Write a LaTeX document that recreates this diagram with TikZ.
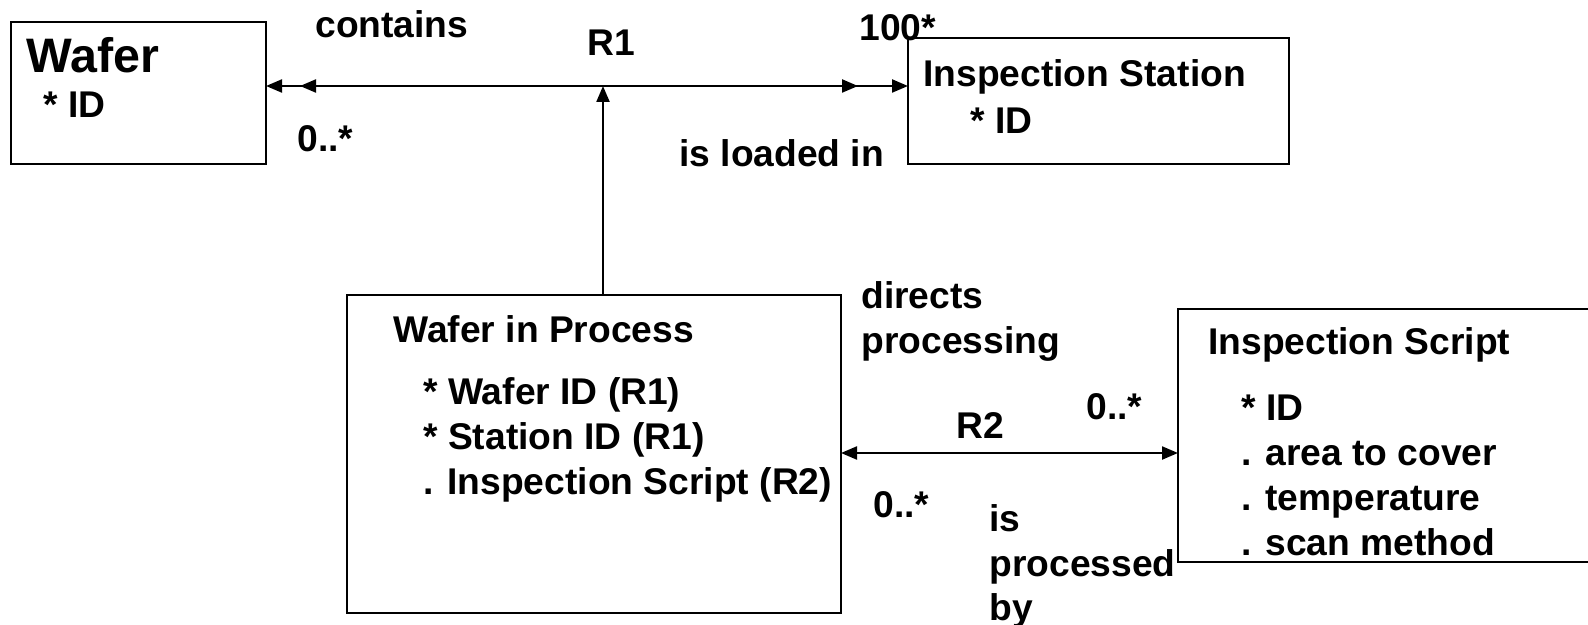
\documentclass[tikz,border=0pt]{standalone}
\usepackage{fontspec}
\setmainfont{Liberation Sans}
\usetikzlibrary{arrows.meta}
\begin{document}
\begin{tikzpicture}[x=0.5pt,y=-0.5pt,
  box/.style={draw,line width=1.1pt,inner sep=0pt},
  txt/.style={anchor=base west,inner sep=0pt,font=\fontsize{18.6pt}{22pt}\selectfont\bfseries},
  big/.style={anchor=base west,inner sep=0pt,font=\fontsize{24.2pt}{28pt}\selectfont\bfseries},
  conn/.style={line width=1.1pt,-{Triangle[length=8pt,width=6.5pt]}},
  tipr/.style={line width=1.1pt,{Triangle[length=8pt,width=6.5pt]}-{Triangle[length=8pt,width=6.5pt]}}]
\useasboundingbox (0,0) rectangle (1588,625);

% entity boxes
\draw[box] (11,22) rectangle (266,164);
\node[inner sep=0pt] (wafer) at (138.5,93) {};
\draw[box] (908,38) rectangle (1289,164);
\node[inner sep=0pt] (station) at (1098.5,101) {};
\draw[box] (347,295) rectangle (841,613);
\node[inner sep=0pt] (wip) at (594,454) {};
\draw[box] (1178,309) rectangle (1600,562);
\node[inner sep=0pt] (script) at (1389,435) {};

% box texts
\node[big] (waferT) at (26,73) {Wafer};
\node[txt] (waferA) at (43,118) {* ID};
\node[txt] (stationT) at (923,87) {Inspection Station};
\node[txt] (stationA) at (970,134) {* ID};
\node[txt] (wipT) at (393,343) {Wafer in Process};
\node[txt] (wipA) at (423,404) {* Wafer ID (R1)};
\node[txt] (wipB) at (423,449) {* Station ID (R1)};
\node[txt] (wipC) at (423,494) {. Inspection Script (R2)};
\node[txt] (scriptT) at (1208,355) {Inspection Script};
\node[txt] (scriptA) at (1241,420) {* ID};
\node[txt] (scriptB) at (1241,465) {. area to cover};
\node[txt] (scriptC) at (1241,510) {. temperature};
\node[txt] (scriptD) at (1241,555) {. scan method};

% relationship R1
\coordinate (r1L) at (266,86);
\coordinate (r1Li) at (300,86);
\coordinate (r1R) at (908,86);
\coordinate (r1Ri) at (858,86);
\coordinate (r1M) at (603,86);
\coordinate (wipTop) at (603,295);
\draw[tipr] (r1L) -- (r1R);
\draw[conn] (r1M) -- (r1Li);
\draw[conn] (r1M) -- (r1Ri);
\draw[conn] (wipTop) -- (r1M);

% relationship R2
\coordinate (r2L) at (841,453);
\coordinate (r2R) at (1178,453);
\draw[tipr] (r2L) -- (r2R);

% labels
\node[txt] (lContains) at (315,38) {contains};
\node[txt] (lR1) at (587,56) {R1};
\node[txt] (l100) at (859,41) {100*};
\node[txt] (lWm) at (297,152) {0..*};
\node[txt] (lLoaded) at (679,167) {is loaded in};
\node[txt] (lDirects) at (861,308) {directs};
\node[txt] (lProcessing) at (861,353) {processing};
\node[txt] (lR2) at (956,438) {R2};
\node[txt] (lSm) at (1086,419) {0..*};
\node[txt] (lWpm) at (873,517) {0..*};
\node[txt] (lIs) at (989,531) {is};
\node[txt] (lProcessed) at (989,576) {processed};
\node[txt] (lBy) at (989,620) {by};
\end{tikzpicture}
\end{document}
